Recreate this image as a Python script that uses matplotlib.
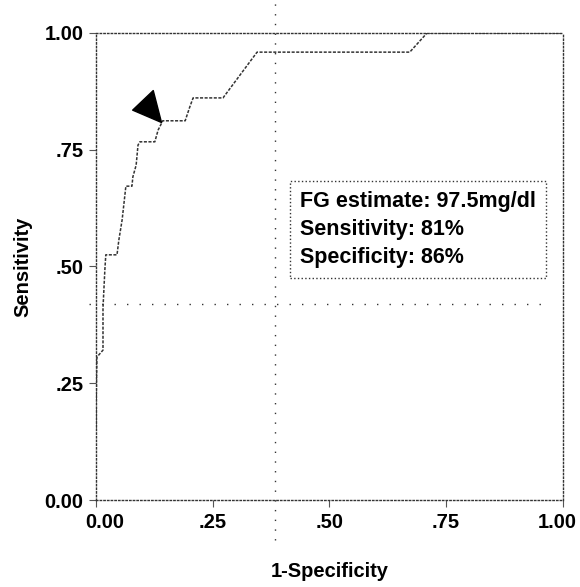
import matplotlib.pyplot as plt
from matplotlib.path import Path
from matplotlib.transforms import ScaledTranslation

# ROC curve (1-specificity, sensitivity)
fpr = [0.0, 0.0, 0.002, 0.015, 0.015, 0.019, 0.021, 0.045, 0.049, 0.056, 0.060,
       0.064, 0.077, 0.079, 0.086, 0.090, 0.094, 0.126, 0.133, 0.143, 0.191,
       0.201, 0.208, 0.272, 0.345, 0.672, 0.709, 1.0]
tpr = [0.154, 0.193, 0.306, 0.321, 0.411, 0.493, 0.525, 0.525, 0.557, 0.600, 0.636,
       0.672, 0.672, 0.692, 0.717, 0.760, 0.767, 0.767, 0.792, 0.812, 0.812,
       0.842, 0.861, 0.861, 0.959, 0.959, 1.0, 1.0]

# chosen cut-off
cut_sens = 0.81
cut_spec = 0.86
cut_label = "FG estimate: 97.5mg/dl"

# dotted reference lines
ref_x = 0.383
ref_y = 0.42

ticks = [0.0, 0.25, 0.5, 0.75, 1.0]
tick_labels = ["0.00", ".25", ".50", ".75", "1.00"]

plt.rcParams['font.family'] = ['Liberation Sans', 'DejaVu Sans']

fig = plt.figure(figsize=(5.8, 5.87), dpi=100)
ax = fig.add_axes([0.1655, 0.1482, 0.805, 0.7956])

# reference lines (they run past the frame)
ax.plot([ref_x, ref_x], [-0.086, 1.071], color='#333333', lw=1,
        linestyle=(0, (1, 6)), clip_on=False)
ax.plot([-0.015, 0.972], [ref_y, ref_y], color='#333333', lw=1,
        linestyle=(0, (1, 8)), clip_on=False)

# roc curve
ax.plot(fpr[:2], tpr[:2], color='#444444', lw=1.2)
ax.plot(fpr[1:], tpr[1:], color='#333333', lw=1.1, linestyle=(0, (2, 1)))

# triangle pointing at the cut-off point
tri = Path([(0, 0), (-8, 31), (-28, 12), (0, 0)],
           [Path.MOVETO, Path.LINETO, Path.LINETO, Path.CLOSEPOLY])
ax.plot([1 - cut_spec], [cut_sens], marker=tri, markersize=46, color='black',
        linestyle='none', clip_on=False)

ax.text(0.437, 0.662,
        f"{cut_label}\nSensitivity: {cut_sens:.0%}\nSpecificity: {cut_spec:.0%}",
        transform=ax.transAxes, ha='left', va='top', fontsize=15.5,
        fontweight='bold', linespacing=1.45,
        bbox=dict(boxstyle='square,pad=0.45', facecolor='white',
                  edgecolor='#333333', linestyle=':', linewidth=1))

ax.set_xlim(0, 1)
ax.set_ylim(0, 1)
ax.set_xticks(ticks)
ax.set_xticklabels(tick_labels)
ax.set_yticks(ticks)
ax.set_yticklabels(tick_labels)
ax.tick_params(axis='both', labelsize=14.5, length=5, width=0.8,
               color='#555555', pad=4)
for lab in ax.get_xticklabels() + ax.get_yticklabels():
    lab.set_fontweight('bold')

# nudge the end labels inwards like the original
xl = ax.get_xticklabels()
xl[0].set_transform(xl[0].get_transform() + ScaledTranslation(0.09, 0, fig.dpi_scale_trans))
xl[-1].set_transform(xl[-1].get_transform() + ScaledTranslation(-0.06, 0, fig.dpi_scale_trans))

for sp in ax.spines.values():
    sp.set_linestyle(':')
    sp.set_color('#333333')
    sp.set_linewidth(1)

ax.set_xlabel("1-Specificity", fontsize=14.5, fontweight='bold', labelpad=22)
ax.set_ylabel("Sensitivity", fontsize=14.5, fontweight='bold', labelpad=9)

fig.savefig("out.png", dpi=100)
